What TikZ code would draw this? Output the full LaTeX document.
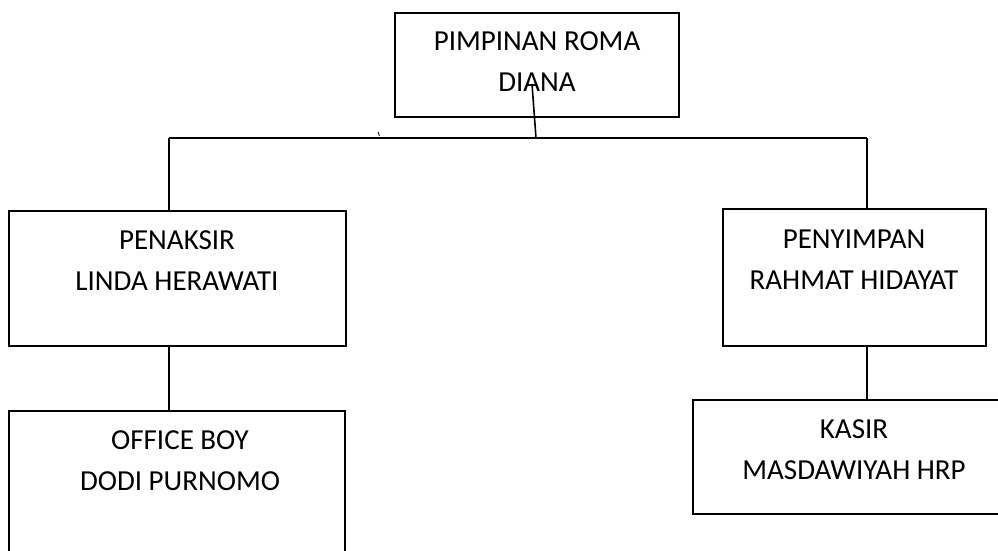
\documentclass[tikz,border=0pt]{standalone}
\usepackage{fontspec}
\setmainfont{Carlito}
\usetikzlibrary{positioning}

\begin{document}
\begin{tikzpicture}[x=1pt,y=-1pt,
  box/.style={draw, line width=1.6pt, inner sep=0pt},
  txt/.style={align=center, inner sep=0pt, font=\fontsize{29}{41}\selectfont},
  line/.style={line width=1.6pt}]

\useasboundingbox (0,0) rectangle (998,550);

\node[box, minimum width=284pt, minimum height=104pt] (pimpinan) at (537,65) {};
\node[box, minimum width=337pt, minimum height=135pt] (penaksir) at (177.5,278.5) {};
\node[box, minimum width=263pt, minimum height=137pt] (penyimpan) at (854.5,277.5) {};
\node[box, minimum width=336pt, minimum height=160pt] (officeboy) at (177,491) {};
\node[box, minimum width=312pt, minimum height=114pt] (kasir) at (849,457) {};

\node[txt] (tpimpinan) at (537,62) {PIMPINAN ROMA\\DIANA};
\node[txt] (tpenaksir) at (177,261) {PENAKSIR\\LINDA HERAWATI};
\node[txt] (tpenyimpan) at (854,260) {PENYIMPAN\\RAHMAT HIDAYAT};
\node[txt] (tofficeboy) at (180,461) {OFFICE BOY\\DODI PURNOMO};
\node[txt] (tkasir) at (854,450) {KASIR\\MASDAWIYAH HRP};

\coordinate (stem) at (532,84);
\coordinate (mid) at (536,138);
\coordinate (lt) at (169,138);
\coordinate (rt) at (867,138);
\coordinate (tick) at (378,132);

\draw[line] (stem) -- (mid);
\draw[line] (lt) -- (rt);
\draw[line] (lt) -- (lt |- penaksir.north);
\draw[line] (rt) -- (rt |- penyimpan.north);
\draw[line] (penaksir.south -| lt) -- (lt |- officeboy.north);
\draw[line] (penyimpan.south -| rt) -- (rt |- kasir.north);
\draw[line width=0.8pt] (tick) -- ++(1.5,4);

\end{tikzpicture}
\end{document}
